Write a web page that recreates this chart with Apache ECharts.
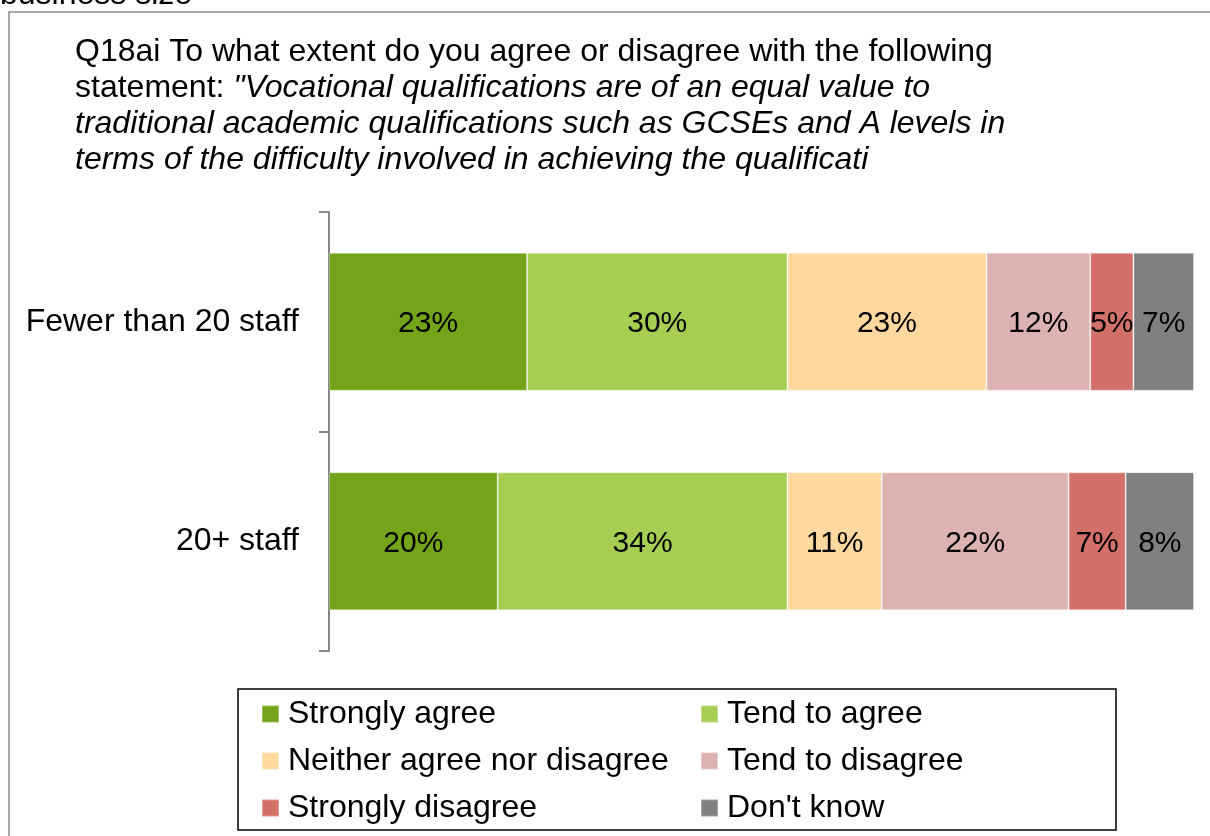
<!DOCTYPE html>
<html>
<head>
<meta charset="utf-8">
<script src="https://cdn.jsdelivr.net/npm/echarts@6/dist/echarts.min.js"></script>
<style>
  html, body { margin: 0; padding: 0; background: #fff; }
  #main { width: 1210px; height: 836px; }
</style>
</head>
<body>
<div id="main"></div>
<script>
// categories (top to bottom)
const categories = ['Fewer than 20 staff', '20+ staff']

// answer groups, in stacking order
const seriesNames = ['Strongly agree', 'Tend to agree', 'Neither agree nor disagree', 'Tend to disagree', 'Strongly disagree', "Don't know"]
const seriesColors = ['#74A41A', '#A6CE52', '#FED89E', '#DDB3B1', '#D4706A', '#808080']

// percentage per answer group, one value per category
const stronglyAgree = [22.9, 19.5]
const tendToAgree = [30.1, 33.5]
const neither = [23.0, 10.9]
const tendToDisagree = [12.0, 21.6]
const stronglyDisagree = [5.0, 6.6]
const dontKnow = [7.0, 7.9]

const seriesValues = [stronglyAgree, tendToAgree, neither, tendToDisagree, stronglyDisagree, dontKnow]

const font = 'Liberation Sans, Arial, sans-serif'

const option = {
  animation: false,
  backgroundColor: '#fff',
  title: {
    left: 75,
    top: 34,
    padding: 0,
    text: '{n|Q18ai To what extent do you agree or disagree with the following}\n' +
      '{n|statement: }{i|"Vocational qualifications are of an equal value to}\n' +
      '{i|traditional academic qualifications such as GCSEs and A levels in}\n' +
      '{i|terms of the difficulty involved in achieving the qualificati}',
    textStyle: {
      fontFamily: font,
      fontWeight: 'normal',
      fontSize: 32,
      lineHeight: 36,
      color: '#000',
      rich: {
        n: { fontFamily: font, fontSize: 32, lineHeight: 36, color: '#000' },
        i: { fontFamily: font, fontSize: 32, lineHeight: 36, color: '#000', fontStyle: 'italic' }
      }
    }
  },
  legend: [
    {
      orient: 'vertical',
      left: 261,
      top: 698,
      padding: 0,
      itemWidth: 17,
      itemHeight: 17,
      itemGap: 15,
      icon: 'rect',
      data: [seriesNames[0], seriesNames[2], seriesNames[4]],
      textStyle: { fontFamily: font, fontSize: 32, lineHeight: 32, color: '#000', padding: [0, 0, 0, 4] }
    },
    {
      orient: 'vertical',
      left: 700,
      top: 698,
      padding: 0,
      itemWidth: 17,
      itemHeight: 17,
      itemGap: 15,
      icon: 'rect',
      data: [seriesNames[1], seriesNames[3], seriesNames[5]],
      textStyle: { fontFamily: font, fontSize: 32, lineHeight: 32, color: '#000', padding: [0, 0, 0, 4] }
    }
  ],
  grid: {
    left: 329,
    right: 16,
    top: 212,
    bottom: 185
  },
  xAxis: {
    type: 'value',
    min: 0,
    max: 100,
    show: false
  },
  yAxis: {
    type: 'category',
    inverse: true,
    data: categories,
    axisLine: { show: true, lineStyle: { color: '#878787', width: 2 } },
    axisTick: { show: true, length: 10, lineStyle: { color: '#878787', width: 2 } },
    axisLabel: { margin: 30, fontFamily: font, fontSize: 32, color: '#000' },
    splitLine: { show: false }
  },
  graphic: [
    // outer frame (continues past the picture)
    {
      type: 'rect',
      shape: { x: 9, y: 12, width: 1300, height: 900 },
      style: { fill: 'none', stroke: '#8a8a8a', lineWidth: 1.5 },
      silent: true
    },
    // legend frame
    {
      type: 'rect',
      shape: { x: 238, y: 689, width: 878, height: 141 },
      style: { fill: 'none', stroke: '#000', lineWidth: 1.5 },
      silent: true
    },
    // clipped caption above the frame
    {
      type: 'text',
      left: 0,
      top: -21,
      style: { text: 'business size', fontFamily: font, fontSize: 32, fill: '#000' },
      silent: true
    }
  ],
  series: []
}

seriesNames.forEach((name, i) => {
  option.series.push({
    name: name,
    type: 'bar',
    stack: 'total',
    barWidth: 138,
    data: seriesValues[i],
    itemStyle: { color: seriesColors[i], borderColor: 'rgba(255,255,255,0.3)', borderWidth: 1 },
    label: {
      show: true,
      position: 'inside',
      offset: [0, 2],
      fontFamily: font,
      fontSize: 30,
      color: '#000',
      formatter(p) {
        return Math.round(p.value) + '%'
      }
    }
  })
})

let chart = echarts.init(document.getElementById('main'))
chart.setOption(option)
</script>
</body>
</html>
